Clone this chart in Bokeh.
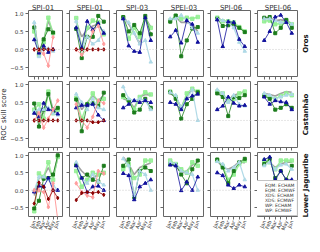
import math
from bokeh.plotting import figure
from bokeh.layouts import column, row
from bokeh.models import Range1d, FixedTicker, Span, Legend, LegendItem, Spacer
from bokeh.core.properties import value
from bokeh.embed import file_html
from bokeh.resources import INLINE

nan = float("nan")

months = ["Jan", "Feb", "Mar", "Apr", "May", "Jun"]
x_idx = [0, 1, 2, 3, 4, 5]
indices = ["SPI-01", "SPEI-01", "SPI-03", "SPEI-03", "SPI-06", "SPEI-06"]
regions = ["Oros", "Castanhão", "Lower Jaguaribe"]
y_title = "ROC skill score"
y_ticks = [-0.5, 0.0, 0.5, 1.0]
y_tick_labels = ["\u22120.5", "0.0", "0.5", "1.0"]

# each region: one list of 6 monthly values per index (SPI-01 ... SPEI-06)
eqm_echam = {
    "Oros": [[0.50, -0.15, 0.20, 0.88, 0.45, nan], [0.87, 0.05, 0.60, 0.80, 0.75, 0.42],
             [0.88, 0.30, 0.60, 0.35, 0.85, 0.60], [0.80, 0.93, 0.85, 0.88, 0.85, 0.90],
             [0.88, 0.78, 0.78, 0.75, 0.62, 0.50], [0.78, 0.80, 0.70, 0.72, 0.80, 0.70]],
    "Castanhão": [[0.30, 0.45, 0.05, 0.80, 0.20, 0.30], [0.62, 0.05, 0.45, 0.75, 0.50, 0.60],
                  [0.65, 0.55, 0.30, 0.65, 0.78, 0.72], [0.80, 0.65, 0.35, 0.75, 0.88, 0.80],
                  [0.80, 0.75, 0.55, 0.60, 0.75, 0.80], [0.70, 0.65, 0.60, 0.68, 0.75, 0.70]],
    "Lower Jaguaribe": [[-0.60, 0.48, 0.38, 0.80, 0.30, 0.95], [0.55, 0.10, 0.30, 0.50, 0.45, 0.50],
                        [0.60, 0.75, 0.35, 0.45, 0.85, 0.85], [0.85, 0.75, 0.60, 0.50, 0.80, 0.70],
                        [0.85, 0.70, 0.30, 0.45, 0.75, 0.85], [0.85, 0.80, 0.60, 0.85, 0.85, 0.85]],
}
eqm_ecmwf = {
    "Oros": [[0.61, -0.06, 0.28, 0.56, 0.47, nan], [0.57, -0.24, 0.35, 0.35, 0.93, 0.77],
             [0.90, 0.50, 0.68, 0.45, 0.93, 0.42], [0.77, 0.94, -0.19, 0.25, 0.58, 0.62],
             [0.85, 0.65, 0.67, 0.70, 0.60, 0.48], [0.88, 0.90, 0.45, 0.60, 0.82, 0.60]],
    "Castanhão": [[0.47, -0.17, 0.30, 0.73, 0.25, 0.35], [0.58, -0.30, 0.45, 0.48, 0.40, 0.77],
                  [0.70, 0.55, 0.22, 0.30, 0.60, 0.35], [0.78, 0.60, 0.05, 0.45, 0.60, 0.78],
                  [0.75, 0.65, 0.12, 0.65, 0.62, 0.70], [0.68, 0.60, 0.30, 0.35, 0.45, 0.35]],
    "Lower Jaguaribe": [[-0.52, -0.30, 0.33, 0.35, 0.45, 1.00], [0.72, 0.35, 0.45, 0.30, 0.25, 0.70],
                        [0.70, 0.88, -0.20, 0.55, 0.65, 0.55], [0.75, 0.72, 0.45, 0.20, 0.60, 0.85],
                        [0.88, 0.65, 0.20, 0.55, 0.80, 0.90], [0.75, 0.90, 0.35, 0.55, 0.30, 0.70]],
}
xds_echam = {
    "Oros": [[0.75, -0.20, 0.05, 0.02, -0.05, nan], [0.78, 0.00, 0.35, 0.15, 0.25, 0.50],
             [0.85, 0.75, 0.45, 0.15, 0.25, -0.35], [0.85, 0.85, 0.95, 0.80, 0.60, 0.45],
             [0.85, 0.80, 0.75, 0.60, 0.20, -0.05], [0.85, 0.85, 0.80, 0.75, 0.75, 0.70]],
    "Castanhão": [[0.25, 0.30, 0.30, 0.35, 0.20, 0.15], [0.73, 0.50, 0.30, 0.60, 0.35, 0.30],
                  [0.93, 0.60, 0.55, 0.60, 0.55, 0.30], [0.78, 0.70, 0.35, 0.60, 0.85, 0.00],
                  [0.85, 0.75, 0.50, 0.70, 0.45, 0.40], [0.75, 0.70, 0.60, 0.65, 0.70, 0.72]],
    "Lower Jaguaribe": [[0.00, 0.38, 0.38, 0.30, 0.15, 0.00], [0.80, 0.35, 0.20, 0.45, 0.25, 0.15],
                        [0.90, 0.70, -0.15, 0.55, 0.45, 0.00], [0.80, 0.75, 0.55, 0.50, 0.45, 0.00],
                        [0.82, 0.75, 0.55, 0.65, 0.80, 0.30], [0.70, 0.80, 0.60, 0.72, 0.75, 0.60]],
}
xds_ecmwf = {
    "Oros": [[0.27, -0.10, 0.10, -0.08, 0.00, nan], [0.60, 0.05, 0.78, 0.55, 0.72, 0.45],
             [0.85, 0.10, -0.05, -0.08, 0.88, 0.25], [0.35, 0.53, 0.18, 0.80, 0.70, 0.20],
             [0.82, 0.08, 0.77, 0.75, 0.28, 0.08], [0.25, 0.50, 0.90, 0.95, 0.75, 0.45]],
    "Castanhão": [[0.20, 0.10, 0.48, 0.30, 0.30, 0.18], [0.35, 0.42, 0.42, 0.45, 0.15, 0.00],
                  [0.35, 0.45, 0.55, 0.50, 0.55, 0.50], [0.50, 0.45, 0.30, 0.60, 0.68, 0.73],
                  [0.30, 0.40, 0.65, 0.48, 0.40, 0.42], [0.65, 0.45, 0.55, 0.52, 0.50, 0.30]],
    "Lower Jaguaribe": [[-0.05, 0.12, 0.10, 0.35, 0.00, 0.00], [0.70, 0.35, -0.05, 0.10, 0.12, 0.00],
                        [0.48, 0.42, -0.27, 0.10, 0.20, 0.30], [0.72, 0.70, -0.01, 0.24, 0.00, 0.38],
                        [0.50, 0.42, 0.15, 0.05, 0.15, 0.10], [0.88, 0.95, 0.30, 0.55, 0.30, 0.30]],
}
# WP only for SPI-01 and SPEI-01
wp_echam = {
    "Oros": [[0.00, -0.02, -0.12, -0.45, 0.34, nan], [0.00, -0.15, 0.00, 0.50, 0.65, 0.15]],
    "Castanhão": [[0.00, 0.20, -0.20, 0.05, 0.30, 0.55], [0.45, 0.00, -0.20, 0.10, 0.55, 0.48]],
    "Lower Jaguaribe": [[0.00, 0.00, -0.05, -0.48, 0.20, -0.85], [0.20, -0.05, -0.15, -0.20, 0.55, 0.48]],
}
wp_ecmwf = {
    "Oros": [[0.00, 0.00, 0.00, 0.00, 0.00, nan], [0.00, 0.00, 0.00, 0.00, 0.00, 0.00]],
    "Castanhão": [[0.00, 0.00, 0.00, 0.00, 0.00, 0.00], [0.00, 0.00, 0.00, -0.05, -0.05, 0.00]],
    "Lower Jaguaribe": [[-0.38, 0.22, 0.10, -0.25, 0.00, -0.22], [-0.28, -0.08, -0.05, -0.08, -0.05, -0.13]],
}
grey_ref = {
    "Oros": [[0.72, -0.12, 0.25, 0.80, 0.45, nan], [0.75, 0.35, 0.55, 0.65, 0.70, 0.45],
             [0.92, 0.70, 0.45, 0.15, 0.88, 0.62], [0.80, 0.90, 0.75, 0.75, 0.70, 0.50],
             [0.88, 0.80, 0.75, 0.68, 0.60, 0.50], [0.85, 0.88, 0.80, 0.82, 0.80, 0.72]],
    "Castanhão": [[0.45, 0.10, 0.20, 0.80, 0.30, 0.35], [0.65, 0.30, 0.50, 0.68, 0.55, 0.70],
                  [0.60, 0.55, 0.35, 0.65, 0.72, 0.70], [0.75, 0.65, 0.35, 0.68, 0.85, 0.78],
                  [0.80, 0.65, 0.55, 0.70, 0.75, 0.80], [0.75, 0.72, 0.68, 0.75, 0.80, 0.78]],
    "Lower Jaguaribe": [[-0.15, 0.35, 0.40, 0.65, 0.35, 0.95], [0.75, 0.55, 0.40, 0.35, 0.45, 0.50],
                        [0.95, 0.75, 0.45, 0.65, 0.72, 0.78], [0.78, 0.70, 0.50, 0.55, 0.72, 0.80],
                        [0.85, 0.65, 0.60, 0.68, 0.82, 0.78], [0.82, 0.80, 0.65, 0.75, 0.80, 0.80]],
}

FONT = "DejaVu Sans"
series = [
    # name, data, color, marker, line width, alpha, size
    ("EQM: ECHAM", eqm_echam, "#90ee90", "square", 1.5, 0.85, 3.5),
    ("EQM: ECMWF", eqm_ecmwf, "#1c7c1c", "square", 0.8, 1.0, 3.0),
    ("XDS: ECHAM", xds_echam, "#add8e6", "triangle", 1.2, 0.95, 3.5),
    ("XDS: ECMWF", xds_ecmwf, "#10109c", "triangle", 0.8, 1.0, 3.5),
    ("WP: ECHAM", wp_echam, "#ff9a9a", "diamond", 1.0, 0.95, 4.0),
    ("WP: ECMWF", wp_ecmwf, "#8b0000", "diamond", 0.8, 1.0, 3.5),
]

XR = (-1.22, 6.22)
YR = (-0.75, 1.08)
FW, FH = 41, 66
YLAB_W = 7
RLAB_W = 14
TITLE_H = 10
left_b = [15, 6, 6, 6, 6, 6]
bot_b = [5, 5, 17]
row_h = [FH + b for b in bot_b]
col_w = [lb + FW for lb in left_b]


def strip(width, height, xr, yr):
    s = figure(width=width, height=height, x_range=Range1d(*xr), y_range=Range1d(*yr),
               toolbar_location=None, output_backend="svg",
               min_border_left=0, min_border_right=0, min_border_top=0, min_border_bottom=0)
    s.axis.visible = False
    s.grid.visible = False
    s.outline_line_color = None
    return s


# column titles
title_figs = []
for c, idx in enumerate(indices):
    s = figure(width=col_w[c], height=TITLE_H, x_range=Range1d(*XR), y_range=Range1d(0, TITLE_H),
               toolbar_location=None, output_backend="svg",
               min_border_left=left_b[c], min_border_right=0, min_border_top=0, min_border_bottom=0)
    s.axis.visible = False
    s.grid.visible = False
    s.outline_line_color = None
    s.text(x=[(XR[0] + XR[1]) / 2], y=[TITLE_H / 2], text=[idx], text_align="center",
           text_baseline="middle", text_font=value(FONT), text_font_size="7px", text_color="#333333")
    title_figs.append(s)

panel_rows = []
for r, reg in enumerate(regions):
    figs = []
    for c, idx in enumerate(indices):
        p = figure(width=col_w[c], height=row_h[r],
                   x_range=Range1d(*XR), y_range=Range1d(*YR),
                   toolbar_location=None, output_backend="svg",
                   min_border_left=left_b[c], min_border_right=0,
                   min_border_top=0, min_border_bottom=bot_b[r])
        p.outline_line_color = "#666666"
        p.outline_line_width = 1
        p.grid.visible = False
        for ax in (p.xaxis[0], p.yaxis[0]):
            ax.axis_line_color = None
            ax.major_tick_in = 0
            ax.major_tick_out = 3
            ax.major_tick_line_color = "#666666"
            ax.minor_tick_line_color = None
            ax.major_label_text_color = "#333333"
            ax.major_label_text_font = FONT
        p.xaxis.ticker = FixedTicker(ticks=x_idx)
        p.yaxis.ticker = FixedTicker(ticks=y_ticks)
        p.xaxis.major_label_overrides = {i: m for i, m in zip(x_idx, months)}
        p.yaxis.major_label_overrides = {t: s for t, s in zip(y_ticks, y_tick_labels)}
        if c == 0:
            p.yaxis.major_label_text_font_size = "5.5px"
            p.yaxis.major_label_standoff = 2
        else:
            p.yaxis.major_label_text_font_size = "1px"
            p.yaxis.major_label_text_color = None
            p.yaxis.major_label_standoff = 0
        if r == 2:
            p.xaxis.major_label_text_font_size = "5px"
            p.xaxis.major_label_orientation = 1.2
            p.xaxis.major_label_standoff = 1
        else:
            p.xaxis.major_label_text_font_size = "1px"
            p.xaxis.major_label_text_color = None
            p.xaxis.major_label_standoff = 0

        p.add_layout(Span(location=0, dimension="width", line_color="#cccccc",
                          line_dash="1 2", line_width=1))

        p.line(x_idx, grey_ref[reg][c], line_color="#888888", line_width=1.6, line_alpha=0.8)
        for name, data, col, mk, lw, al, sz in series:
            vals = data[reg]
            if c >= len(vals):
                continue
            p.line(x_idx, vals[c], line_color=col, line_width=lw, line_alpha=al)
            p.scatter(x_idx, vals[c], marker=mk, size=sz, fill_color=col, line_color=col,
                      fill_alpha=al, line_alpha=al)

        if r == 2 and c == 5:
            items = []
            for name, data, col, mk, lw, al, sz in series:
                rr = p.scatter([], [], marker=mk, size=sz, fill_color=col, line_color=col,
                               fill_alpha=al, line_alpha=al)
                items.append(LegendItem(label=name, renderers=[rr]))
            leg = Legend(items=items, location="bottom_right", label_text_font=FONT,
                         label_text_font_size="4.5px", label_text_color="#333333",
                         label_height=5, label_standoff=2, glyph_height=5, glyph_width=5,
                         spacing=0, padding=2, margin=0, border_line_color="#888888",
                         border_line_width=0.8, background_fill_alpha=1.0)
            p.add_layout(leg)
        figs.append(p)
    panel_rows.append(row(*figs))

# region labels on the right
rlabs = [Spacer(width=RLAB_W, height=TITLE_H)]
for r, reg in enumerate(regions):
    s = strip(RLAB_W, row_h[r], (0, RLAB_W), (0, row_h[r]))
    s.text(x=[RLAB_W / 2 + 0.5], y=[row_h[r] - FH / 2], text=[reg], angle=math.pi / 2,
           text_align="center", text_baseline="middle", text_font=value(FONT),
           text_font_size="7px", text_font_style="bold", text_color="#111111")
    rlabs.append(s)

# y axis title on the left
total_h = TITLE_H + sum(row_h)
ylab = strip(YLAB_W, total_h, (0, YLAB_W), (0, total_h))
ylab.text(x=[YLAB_W / 2], y=[total_h - (TITLE_H + row_h[0] + FH / 2)], text=[y_title],
          angle=math.pi / 2, text_align="center", text_baseline="middle",
          text_font=value(FONT), text_font_size="7px", text_color="#222222")

layout = row(ylab, column(row(*title_figs), *panel_rows), column(*rlabs))
open("out.html", "w").write(file_html(layout, INLINE))
